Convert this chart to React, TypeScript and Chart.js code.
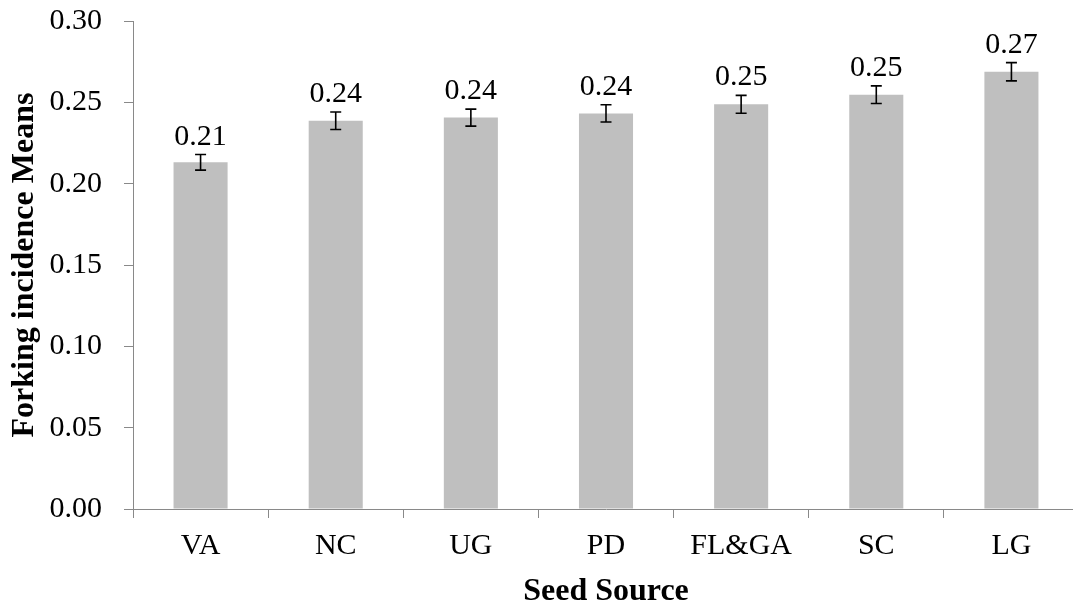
import React, { useEffect, useRef } from "react";
import { Chart, registerables } from "chart.js";

Chart.register(...registerables);

const categories = ["VA", "NC", "UG", "PD", "FL&GA", "SC", "LG"];
const means = [0.2131, 0.2387, 0.2406, 0.2432, 0.2488, 0.2547, 0.2688];
const errors = [0.0048, 0.0054, 0.0052, 0.0053, 0.0055, 0.0054, 0.0056];
const valueLabels = ["0.21", "0.24", "0.24", "0.24", "0.25", "0.25", "0.27"];
const yTicks = [0, 0.05, 0.1, 0.15, 0.2, 0.25, 0.3];

const FONT = '"Liberation Serif", "Times New Roman", serif';
const AXIS_COLOR = "#898989";

const errorBarPlugin = {
  id: "errorBarsAndLabels",
  afterDatasetsDraw(chart: any) {
    const { ctx } = chart;
    const meta = chart.getDatasetMeta(0);
    const y = chart.scales.y;
    ctx.save();
    meta.data.forEach((bar: any, i: number) => {
      const x = bar.x;
      const yTop = y.getPixelForValue(means[i] + errors[i]);
      const yBot = y.getPixelForValue(means[i] - errors[i]);
      const cap = 5.5;
      ctx.strokeStyle = "#000";
      ctx.lineWidth = 1.6;
      ctx.beginPath();
      ctx.moveTo(x, yTop);
      ctx.lineTo(x, yBot);
      ctx.moveTo(x - cap, yTop);
      ctx.lineTo(x + cap, yTop);
      ctx.moveTo(x - cap, yBot);
      ctx.lineTo(x + cap, yBot);
      ctx.stroke();
      ctx.fillStyle = "#000";
      ctx.font = `30px ${FONT}`;
      ctx.textAlign = "center";
      ctx.textBaseline = "alphabetic";
      ctx.fillText(valueLabels[i], x, yTop - 10);
    });
    ctx.restore();
  },
};

export default function App() {
  const ref = useRef<HTMLCanvasElement>(null);
  useEffect(() => {
    if (!ref.current) return;
    const chart = new Chart(ref.current, {
      type: "bar",
      data: {
        labels: categories,
        datasets: [
          {
            data: means,
            backgroundColor: "#BFBFBF",
            borderWidth: 0,
            barPercentage: 0.4,
            categoryPercentage: 1,
          },
        ],
      },
      options: {
        responsive: false,
        animation: false,
        layout: { padding: { left: 0, right: 11, top: 21, bottom: 0 } },
        plugins: {
          legend: { display: false },
          tooltip: { enabled: false },
        },
        scales: {
          x: {
            grid: {
              offset: true,
              drawOnChartArea: false,
              drawTicks: true,
              tickLength: 9,
              color: AXIS_COLOR,
            },
            border: { color: AXIS_COLOR, width: 1 },
            ticks: {
              color: "#000",
              font: { family: FONT, size: 30 },
              padding: 10,
              maxRotation: 0,
            },
            title: {
              display: true,
              text: "Seed Source",
              color: "#000",
              font: { family: FONT, size: 32, weight: "bold" },
              padding: { top: 0, bottom: 0 },
            },
            afterFit(scale: any) {
              scale.height = 102;
              scale.paddingLeft = 0;
              scale.paddingRight = 0;
            },
          },
          y: {
            min: 0,
            max: 0.3,
            afterBuildTicks(scale: any) {
              scale.ticks = yTicks.map((v) => ({ value: v }));
            },
            grid: {
              drawOnChartArea: false,
              drawTicks: true,
              tickLength: 9,
              color: AXIS_COLOR,
            },
            border: { color: AXIS_COLOR, width: 1 },
            ticks: {
              color: "#000",
              font: { family: FONT, size: 30 },
              padding: 22,
              callback: (v: any) => Number(v).toFixed(2),
            },
            title: {
              display: true,
              text: "Forking incidence Means",
              color: "#000",
              font: { family: FONT, size: 32, weight: "bold" },
              padding: { top: 6, bottom: 0 },
            },
            afterFit(scale: any) {
              scale.width = 133;
              scale.paddingTop = 0;
              scale.paddingBottom = 0;
            },
          },
        },
      },
      plugins: [errorBarPlugin],
    });
    return () => chart.destroy();
  }, []);
  return (
    <div
      style={{
        position: "fixed",
        left: 0,
        top: 0,
        width: 1073,
        height: 611,
        overflow: "hidden",
        background: "#fff",
      }}
    >
      <canvas ref={ref} width={1090} height={611} style={{ display: "block" }} />
    </div>
  );
}
